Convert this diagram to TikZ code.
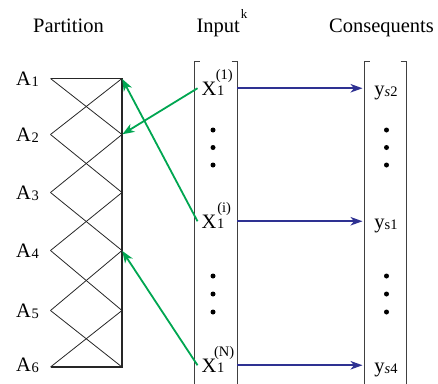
\documentclass[tikz,border=0pt]{standalone}
\usepackage{fontspec}
\setmainfont{Liberation Serif}
\usetikzlibrary{arrows.meta}
\definecolor{grn}{HTML}{00A651}
\definecolor{blu}{HTML}{2E3192}
\newcommand\smallfnt{\fontsize{14.5}{14.5}\selectfont}
\newcommand\xlab[1]{\rlap{\hspace{22.5pt}\makebox[0pt][c]{\raisebox{16pt}{\smallfnt(#1)}}}X\kern0.5pt\raisebox{-0.8pt}{\smallfnt 1}}
\newcommand\alab[1]{A\kern0.5pt\raisebox{-1pt}{\smallfnt #1}}
\newcommand\ylab[1]{y\raisebox{-1pt}{\smallfnt #1}}
\begin{document}
\begin{tikzpicture}[x=1pt,y=-1pt,font=\fontsize{20.5}{24}\selectfont,
  lbl/.style={inner sep=0pt,text height=13.5pt,text depth=0pt},
  xlbl/.style={inner xsep=4pt,inner ysep=0pt,text height=13.5pt,text depth=0pt,anchor=base west},
  hdr/.style={inner sep=0pt,anchor=base},
  thinln/.style={line width=0.8pt,draw=black!85},
  frameln/.style={line width=1.7pt,draw=black!85},
  brk/.style={line width=1pt,draw=black!75},
  garrow/.style={draw=grn,line width=1.8pt,-{Stealth[length=12pt,width=9pt,inset=3.5pt]},shorten >=0.5pt},
  barrow/.style={draw=blu,line width=1.8pt,-{Stealth[length=12pt,width=8.5pt,inset=3.5pt]},shorten >=1.5pt},
  dotn/.style={circle,fill=black,inner sep=0pt,minimum size=5pt}]
\useasboundingbox (0,0) rectangle (438,383);
% headers
\node[hdr] (hpart) at (68.5,32) {Partition};
\node[hdr] (hin) at (222,32) {Input\kern1pt\raisebox{14pt}{\fontsize{13}{13}\selectfont k}};
\node[hdr] (hcon) at (381.5,32) {Consequents};
% partition
\foreach \i/\y in {1/78.5,2/134.5,3/192.5,4/250.5,5/310.5,6/367}{
  \coordinate (L\i) at (50.5,\y);
  \coordinate (R\i) at (122,\y);
}
\foreach \i/\j in {1/2,2/3,3/4,4/5,5/6}{
  \draw[thinln] (L\i) -- (R\j);
  \draw[thinln] (L\j) -- (R\i);
}
\draw[frameln] (L1) -- (R1) -- (R6) -- (L6);
\node[lbl,anchor=east] (a1) at (39,78.5) {\alab{1}};
\node[lbl,anchor=east] (a2) at (39,134.5) {\alab{2}};
\node[lbl,anchor=east] (a3) at (39,192.5) {\alab{3}};
\node[lbl,anchor=east] (a4) at (39,250.5) {\alab{4}};
\node[lbl,anchor=east] (a5) at (39,310.5) {\alab{5}};
\node[lbl,anchor=east] (a6) at (39,364.5) {\alab{6}};
% brackets
\coordinate (inLt) at (194,61);
\coordinate (inRt) at (237,61);
\coordinate (cLt) at (364,61);
\coordinate (cRt) at (406,61);
\draw[brk] (199.5,61) -- (inLt) -- (194,390);
\draw[brk] (231.5,61) -- (inRt) -- (237,390);
\draw[brk] (369.5,61) -- (cLt) -- (364,390);
\draw[brk] (400.5,61) -- (cRt) -- (406,390);
% input labels
\node[xlbl] (x1) at (197.5,95) {\xlab{1}};
\node[xlbl] (xi) at (197.5,228) {\xlab{i}};
\node[xlbl] (xN) at (197.5,372) {\xlab{N}};
% consequents
\node[lbl,anchor=base] (ys2) at (386,95) {\ylab{\textit{s}2}};
\node[lbl,anchor=base] (ys1) at (386,228) {\ylab{s1}};
\node[lbl,anchor=base] (ys4) at (386,372) {\ylab{\textit{s}4}};
% dots
\foreach \n/\y in {1/130,2/147.5,3/165,4/276,5/294,6/312}{
  \node[dotn] (di\n) at (213,\y) {};
  \node[dotn] (dc\n) at (386.5,\y) {};
}
% blue arrows
\draw[barrow] (x1 -| inRt) -- (x1 -| cLt);
\draw[barrow] (xi -| inRt) -- (xi -| cLt);
\draw[barrow] (xN -| inRt) -- (xN -| cLt);
% green arrows
\draw[garrow] (x1.west) -- (R2);
\draw[garrow] (xi.west) -- (R1);
\draw[garrow] (xN.west) -- (R4);
\end{tikzpicture}
\end{document}
